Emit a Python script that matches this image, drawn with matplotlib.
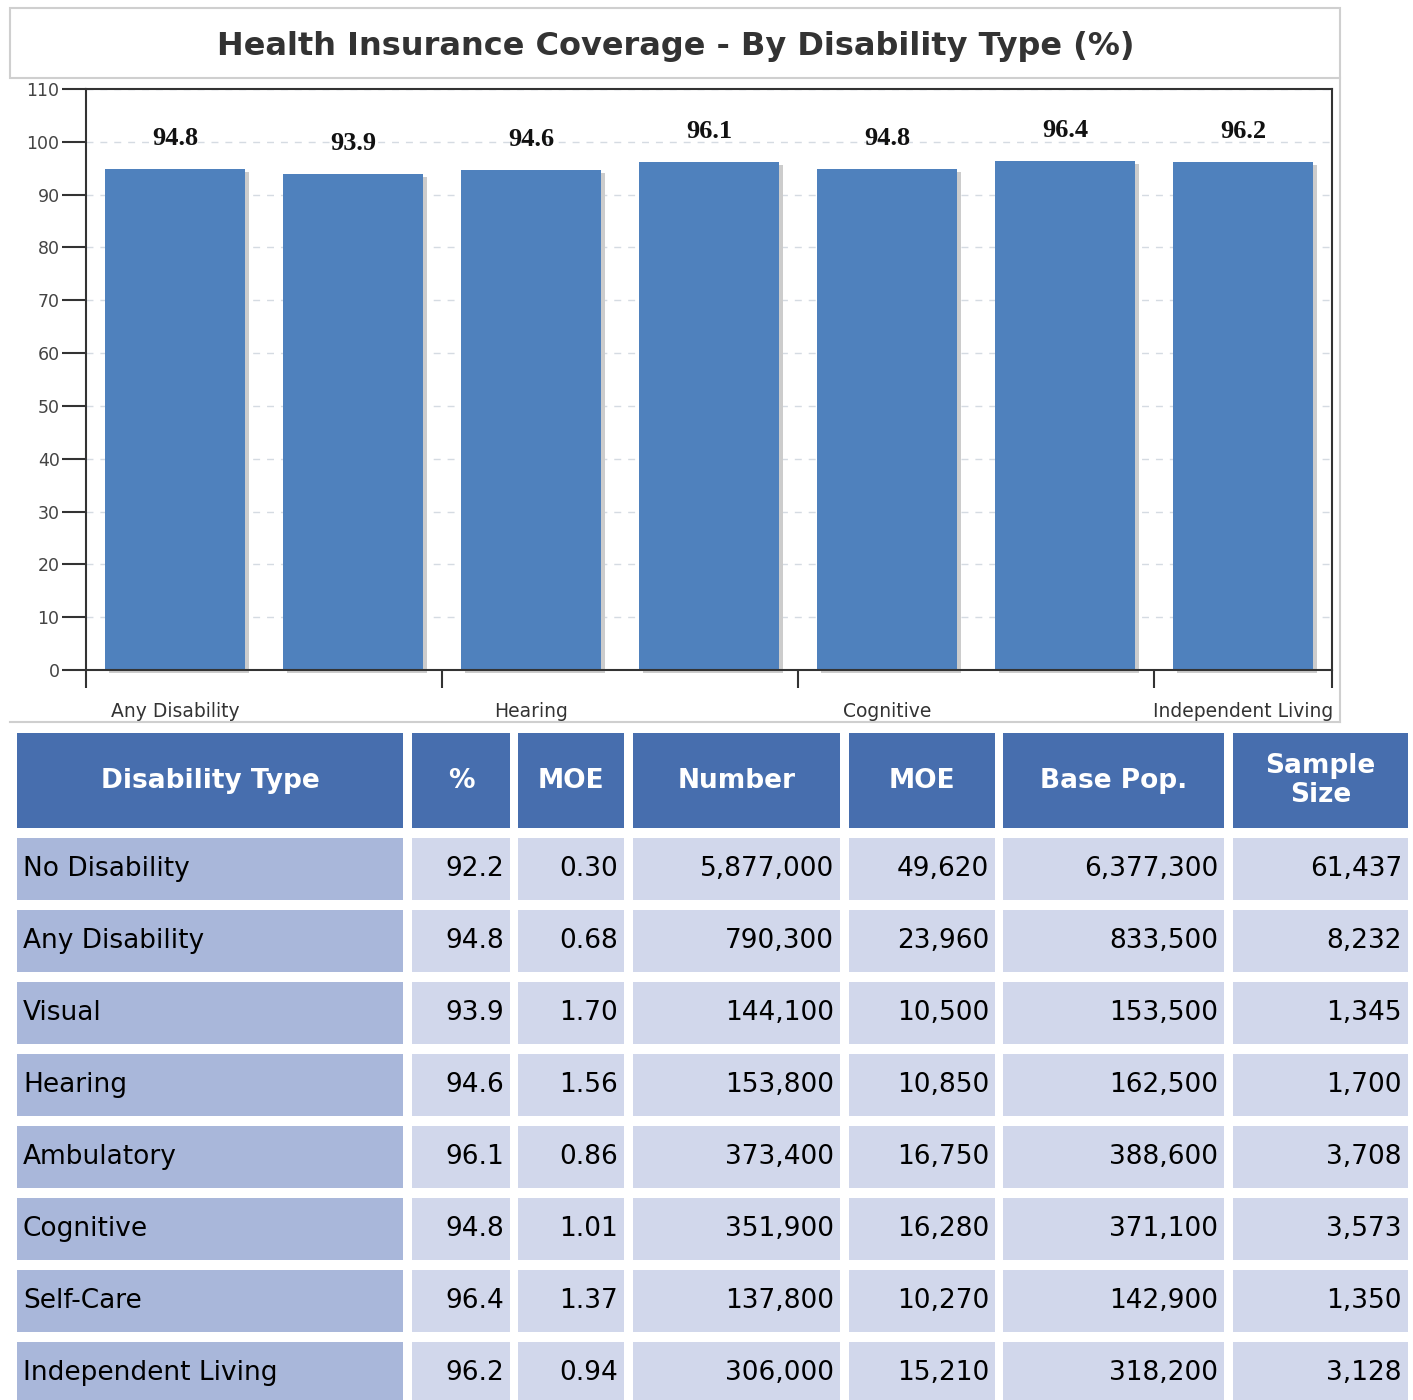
import matplotlib
matplotlib.use("Agg")
import matplotlib.pyplot as plt
from matplotlib.patches import Rectangle
from matplotlib.transforms import ScaledTranslation
from matplotlib.lines import Line2D

# ---------------- data ----------------
types = ["No Disability", "Any Disability", "Visual", "Hearing", "Ambulatory",
         "Cognitive", "Self-Care", "Independent Living"]
pct = [92.2, 94.8, 93.9, 94.6, 96.1, 94.8, 96.4, 96.2]
moe_pct = [0.30, 0.68, 1.70, 1.56, 0.86, 1.01, 1.37, 0.94]
number = [5877000, 790300, 144100, 153800, 373400, 351900, 137800, 306000]
moe_num = [49620, 23960, 10500, 10850, 16750, 16280, 10270, 15210]
base_pop = [6377300, 833500, 153500, 162500, 388600, 371100, 142900, 318200]
sample = [61437, 8232, 1345, 1700, 3708, 3573, 1350, 3128]
headers = ["Disability Type", "%", "MOE", "Number", "MOE", "Base Pop.", "Sample\nSize"]
y_ticks = list(range(0, 111, 10))
shown_labels = ["Any Disability", "Hearing", "Cognitive", "Independent Living"]

chart_cats = types[1:]
chart_vals = pct[1:]

# ---------------- layout ----------------
W, H = 1413, 1400
DPI = 100
fig = plt.figure(figsize=(W / DPI, H / DPI), dpi=DPI)
fig.patch.set_facecolor("white")

BAR = "#4F81BD"
HEAD = "#476EAE"
COL1 = "#A9B7DA"
CELL = "#D1D7EB"
DARK = "#333333"

def fx(px):
    return px / W

def fy(py):
    return 1 - py / H

# overlay axes in pixel coordinates for boxes / table
over = fig.add_axes([0, 0, 1, 1])
over.set_xlim(0, W)
over.set_ylim(H, 0)
over.axis("off")
over.set_zorder(0)

# chart frame (title box + right/bottom border)
over.add_patch(Rectangle((10, 8), 1330, 70, facecolor="white",
                         edgecolor="#cfcfcf", linewidth=1.5))
over.add_line(Line2D([1340, 1340], [78, 722], color="#cfcfcf", linewidth=1.5))
over.add_line(Line2D([10, 1340], [722, 722], color="#cfcfcf", linewidth=1.5))
over.text(676, 46, "Health Insurance Coverage - By Disability Type (%)",
          ha="center", va="center", fontsize=23, fontweight="bold",
          color=DARK, family="DejaVu Sans")

# ---------------- bar chart ----------------
L, R, T, B = 86, 1332, 89, 670
ax = fig.add_axes([fx(L), fy(B), fx(R - L), (B - T) / H])
ax.set_zorder(2)
ax.set_facecolor("none")
xs = list(range(len(chart_cats)))
ax.set_xlim(-0.5, len(chart_cats) - 0.5)
ax.set_ylim(0, 110)

shadow_tr = ax.transData + ScaledTranslation(4 / DPI, -3 / DPI, fig.dpi_scale_trans)
ax.bar(xs, chart_vals, width=0.79, color="#cccccc", transform=shadow_tr,
       clip_on=False, zorder=1)
ax.bar(xs, chart_vals, width=0.79, color=BAR, zorder=2)

for x, v in zip(xs, chart_vals):
    ax.annotate(f"{v:.1f}", (x, v), xytext=(0, 22), textcoords="offset points",
                ha="center", va="center", fontsize=19, fontweight="bold",
                family="Liberation Serif", color="#111111", zorder=3)

ax.set_yticks(y_ticks)
ax.yaxis.grid(True, linestyle=(0, (5, 5)), color="#d5dbe2", linewidth=1)
ax.set_axisbelow(True)
ax.tick_params(axis="y", direction="out", length=17, width=1.5, color=DARK,
               labelsize=12.5, labelcolor="#444444", pad=2)

ax.set_xticks([-0.5, 1.5, 3.5, 5.5, 6.5])
ax.set_xticklabels([])
ax.tick_params(axis="x", which="major", direction="out", length=13, width=1.5,
               color=DARK)
ax.set_xticks([0, 2, 4, 6], labels=shown_labels, minor=True)
ax.tick_params(axis="x", which="minor", length=0, pad=23, labelsize=13.5,
               labelcolor=DARK)
for lab in ax.get_xticklabels(minor=True):
    lab.set_fontfamily("DejaVu Sans")

for s in ax.spines.values():
    s.set_color(DARK)
    s.set_linewidth(1.5)

# ---------------- table ----------------
col_l = [17, 412, 518, 633, 849, 1003, 1233]
col_r = [403, 510, 624, 840, 995, 1224, 1408]
head_top, head_bot = 733, 828
row_top0, row_h, row_pitch = 838, 62, 72
pad = 6

for c in range(len(headers)):
    over.add_patch(Rectangle((col_l[c], head_top), col_r[c] - col_l[c],
                             head_bot - head_top, facecolor=HEAD, edgecolor="none"))
    over.text((col_l[c] + col_r[c]) / 2, (head_top + head_bot) / 2, headers[c],
              ha="center", va="center", fontsize=19, fontweight="bold",
              color="white", family="DejaVu Sans", linespacing=1.15)

for r in range(len(types)):
    top = row_top0 + r * row_pitch
    cy = top + row_h / 2
    vals = [types[r], f"{pct[r]:.1f}", f"{moe_pct[r]:.2f}", f"{number[r]:,}",
            f"{moe_num[r]:,}", f"{base_pop[r]:,}", f"{sample[r]:,}"]
    for c, txt in enumerate(vals):
        over.add_patch(Rectangle((col_l[c], top), col_r[c] - col_l[c], row_h,
                                 facecolor=COL1 if c == 0 else CELL,
                                 edgecolor="none"))
        if c == 0:
            over.text(col_l[c] + pad, cy, txt, ha="left", va="center",
                      fontsize=19, color="black", family="DejaVu Sans")
        else:
            over.text(col_r[c] - pad, cy, txt, ha="right", va="center",
                      fontsize=19, color="black", family="DejaVu Sans")

fig.savefig("out.png", dpi=DPI, facecolor="white")
